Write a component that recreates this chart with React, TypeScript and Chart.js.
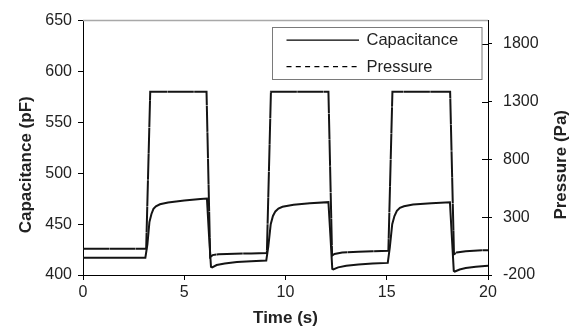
import { useEffect, useRef } from "react";
import { Chart, registerables } from "chart.js";

Chart.register(...registerables);

// ---- data ----
const capTime = [
  0, 1, 2, 3.08, 3.18, 3.28, 3.38, 3.48, 3.6, 3.8, 4.2, 5.0, 5.8, 6.12,
  6.22, 6.32, 6.38, 6.6, 7.0, 7.6, 8.3, 9.05,
  9.15, 9.27, 9.38, 9.5, 9.65, 9.85, 10.4, 11.2, 12.12,
  12.22, 12.31, 12.36, 12.6, 13.0, 13.6, 14.3, 15.05,
  15.15, 15.27, 15.38, 15.5, 15.65, 15.85, 16.3, 17.2, 18.12,
  18.22, 18.31, 18.36, 18.6, 18.9, 19.4, 20,
];
const capValues = [
  416.9, 417.0, 416.9, 417.0, 430, 452, 460, 465, 467.5, 469.5, 471.2, 473.2, 474.6, 475.2,
  440, 408, 407.5, 409.8, 411.4, 412.8, 413.6, 414.2,
  428, 450, 458, 462.5, 465.3, 467, 469, 470.6, 471.6,
  438, 406, 405.5, 407.5, 409, 410.3, 411.2, 411.9,
  427, 450, 458, 463, 466, 467.5, 469.2, 470.6, 471.5,
  436, 404, 403.4, 405.4, 406.8, 408.2, 409.1,
];
const presTime = [
  0, 1, 2, 3.12, 3.32, 6.1, 6.28, 6.4, 6.7, 7.5, 8.3, 9.08,
  9.28, 12.12, 12.3, 12.42, 12.8, 13.6, 14.3, 15.08,
  15.28, 18.13, 18.32, 18.45, 18.9, 19.5, 20,
];
const presValues = [
  28, 27, 28, 28, 1384, 1384, -44, -28, -20, -16, -13, -9,
  1384, 1384, -32, -18, -6, 1, 5, 9,
  1384, 1384, -20, -6, 6, 12, 15,
];

const seriesLabels = ["Capacitance", "Pressure"];
const xTicks = [0, 5, 10, 15, 20];
const leftTicks = [400, 450, 500, 550, 600, 650];
const rightTicks = [-200, 300, 800, 1300, 1800];
const xTitle = "Time (s)";
const yTitle = "Capacitance (pF)";
const y1Title = "Pressure (Pa)";

const FONT = '"Liberation Sans", Arial, Helvetica, sans-serif';
const TEXT = "#222";
const LINE = "#141414";

const decorPlugin = {
  id: "decor",
  afterDraw(chart: any) {
    const { ctx, chartArea: a, scales } = chart;
    ctx.save();
    // grey top frame line
    ctx.strokeStyle = "#a8a8a8";
    ctx.lineWidth = 1.5;
    ctx.beginPath();
    ctx.moveTo(a.left, a.top);
    ctx.lineTo(a.right, a.top);
    ctx.stroke();

    // inner parts of the right-axis tick marks
    ctx.strokeStyle = "#000";
    ctx.lineWidth = 1;
    for (const v of rightTicks) {
      const y = Math.round(scales.y1.getPixelForValue(v)) + 0.5;
      ctx.beginPath();
      ctx.moveTo(a.right - 6, y);
      ctx.lineTo(a.right, y);
      ctx.stroke();
    }

    // vertical axis titles
    const cy = (a.top + a.bottom) / 2 + 17;
    ctx.fillStyle = TEXT;
    ctx.font = `bold 17px ${FONT}`;
    ctx.textAlign = "center";
    ctx.textBaseline = "middle";
    ctx.save();
    ctx.translate(26, cy);
    ctx.rotate(-Math.PI / 2);
    ctx.fillText(yTitle, 0, 0);
    ctx.restore();
    ctx.save();
    ctx.translate(561, cy);
    ctx.rotate(-Math.PI / 2);
    ctx.fillText(y1Title, 0, 0);
    ctx.restore();

    // legend box
    const bx = a.right - 216.5;
    const by = a.top + 6.5;
    const bw = 209.5;
    const bh = 52;
    ctx.strokeStyle = "#7a7a7a";
    ctx.lineWidth = 1;
    ctx.strokeRect(Math.round(bx) + 0.5, Math.round(by) + 0.5, bw, bh);
    const lx0 = bx + 15;
    const lx1 = bx + 87.5;
    const tx = bx + 95;
    const rows = [by + 13, by + 39.5];
    ctx.strokeStyle = "#000";
    ctx.lineWidth = 1.1;
    chart.data.datasets.forEach((ds: any, i: number) => {
      const y = rows[i];
      ctx.setLineDash(i === 1 ? [5, 4.3] : []);
      ctx.beginPath();
      ctx.moveTo(lx0, y);
      ctx.lineTo(lx1, y);
      ctx.stroke();
      ctx.setLineDash([]);
      ctx.fillStyle = TEXT;
      ctx.font = `16.5px ${FONT}`;
      ctx.textAlign = "left";
      ctx.textBaseline = "middle";
      ctx.fillText(ds.label, tx, y + 0.5);
    });
    ctx.restore();
  },
};

export default function App() {
  const ref = useRef<HTMLCanvasElement | null>(null);

  useEffect(() => {
    if (!ref.current) return;
    const capData = capTime.map((t, i) => ({ x: t, y: capValues[i] }));
    const presData = presTime.map((t, i) => ({ x: t, y: presValues[i] }));

    const chart = new Chart(ref.current, {
      type: "line",
      data: {
        datasets: [
          {
            label: seriesLabels[0],
            data: capData,
            yAxisID: "y",
            borderColor: LINE,
            borderWidth: 2,
            pointRadius: 0,
            tension: 0,
            fill: false,
          },
          {
            label: seriesLabels[1],
            data: presData,
            yAxisID: "y1",
            borderColor: LINE,
            borderWidth: 2,
            borderDash: [26, 0.4],
            pointRadius: 0,
            tension: 0,
            fill: false,
          },
        ],
      },
      options: {
        animation: false,
        responsive: false,
        events: [],
        layout: { padding: { top: 15, left: 0, right: 0, bottom: 0 } },
        plugins: {
          legend: { display: false },
          tooltip: { enabled: false },
          title: { display: false },
        },
        scales: {
          x: {
            type: "linear",
            min: 0,
            max: 20,
            afterBuildTicks: (s: any) => {
              s.ticks = xTicks.map((v) => ({ value: v }));
            },
            afterFit: (s: any) => {
              s.height = 56;
            },
            border: { color: "#000", width: 1 },
            grid: { drawOnChartArea: false, tickLength: 5, color: "#000" },
            ticks: {
              padding: 3,
              color: TEXT,
              font: { family: FONT, size: 16 },
              maxRotation: 0,
              callback: (v: any) => String(v),
            },
            title: {
              display: true,
              text: xTitle,
              color: TEXT,
              font: { family: FONT, size: 17, weight: "bold" },
              padding: { top: 0, bottom: 2 },
            },
          },
          y: {
            type: "linear",
            position: "left",
            min: 400,
            max: 650,
            afterBuildTicks: (s: any) => {
              s.ticks = leftTicks.map((v) => ({ value: v }));
            },
            afterFit: (s: any) => {
              s.width = 83;
            },
            border: { color: "#000", width: 1 },
            grid: { drawOnChartArea: false, tickLength: 5, color: "#000" },
            ticks: {
              padding: 6,
              color: TEXT,
              font: { family: FONT, size: 16 },
              callback: (v: any) => String(v),
            },
          },
          y1: {
            type: "linear",
            position: "right",
            min: -200,
            max: 2000,
            afterBuildTicks: (s: any) => {
              s.ticks = rightTicks.map((v) => ({ value: v }));
            },
            afterFit: (s: any) => {
              s.width = 88;
            },
            border: { color: "#000", width: 1 },
            grid: { drawOnChartArea: false, tickLength: 4, color: "#000" },
            ticks: {
              padding: 11,
              color: TEXT,
              font: { family: FONT, size: 16 },
              callback: (v: any) => String(v),
            },
          },
        },
      },
      plugins: [decorPlugin],
    } as any);

    return () => chart.destroy();
  }, []);

  return (
    <div style={{ position: "absolute", left: 0, top: 0, width: 576, height: 331, background: "#fff" }}>
      <canvas ref={ref} width={576} height={331} style={{ display: "block" }} />
    </div>
  );
}
